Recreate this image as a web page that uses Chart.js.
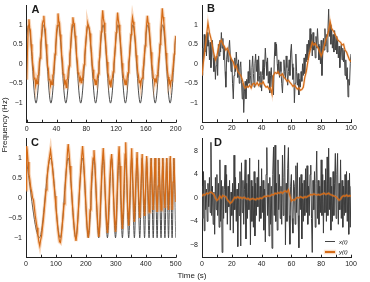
<!DOCTYPE html>
<html>
<head>
<meta charset="utf-8">
<script src="https://cdn.jsdelivr.net/npm/chart.js@4.4.1/dist/chart.umd.min.js"></script>
<style>
  html, body { margin: 0; padding: 0; background: #fff; }
  #wrap { position: relative; width: 370px; height: 282px; overflow: hidden; font-family: "Liberation Sans", Arial, sans-serif; color: #1a1a1a; }
  #wrap canvas { position: absolute; }
  .tag { position: absolute; font-weight: bold; font-size: 11px; line-height: 1; }
  .axt { position: absolute; font-size: 8px; line-height: 1; white-space: nowrap; }
  .leg { position: absolute; font-size: 6px; font-style: italic; line-height: 1; }
  .sw { position: absolute; width: 10px; }
</style>
</head>
<body>
<div id="wrap">
  <canvas id="cA" width="184" height="139" style="left:0;top:-3px"></canvas>
  <canvas id="cB" width="194" height="139" style="left:176px;top:-3px"></canvas>
  <canvas id="cC" width="184" height="145" style="left:0;top:130px"></canvas>
  <canvas id="cD" width="194" height="145" style="left:176px;top:130px"></canvas>

  <div class="tag" style="left:31.5px;top:3.6px">A</div>
  <div class="tag" style="left:207px;top:2.6px">B</div>
  <div class="tag" style="left:31px;top:137px">C</div>
  <div class="tag" style="left:214px;top:137px">D</div>

  <div class="axt" style="left:192px;top:272px;transform:translateX(-50%)">Time (s)</div>
  <div class="axt" style="left:5px;top:125px;transform:translate(-50%,-50%) rotate(-90deg)">Frequency (Hz)</div>

  <div class="sw" style="left:325px;top:241px;height:1px;background:#444"></div>
  <div class="leg" style="left:339px;top:238.5px">x(t)</div>
  <div class="sw" style="left:325px;top:250.5px;height:2px;background:#d46b17;box-shadow:0 0 1.5px 1px rgba(236,150,80,0.4)"></div>
  <div class="leg" style="left:339px;top:248.5px">y(t)</div>
</div>

<script>
// ---- Panel A: sinusoid, 0-200 s ----
const aBlackT = [0, 2.5, 12.5, 22.5, 32.5, 42.5, 52.5, 62.5, 72.5, 82.5, 92.5, 102.5,
  112.5, 122.5, 132.5, 142.5, 152.5, 162.5, 172.5, 182.5, 192.5, 200];
const aBlackV = [0.71, 1, -1, 1, -1, 1, -1, 1, -1, 1, -1, 1, -1, 1, -1, 1, -1, 1, -1, 1, -1, 0.71];
// orange sampled every 1 s
const aOrange = [
  -0.40, 0.30, 0.95, 1.14, 0.92, 0.85, 0.50, 0.33, 0.02, -0.12, -0.38, -0.35, -0.55, -0.42, -0.50, -0.30, -0.28, 0.05, 0.15, 0.55,
  0.70, 1.02, 1.10, 1.23, 0.95, 0.88, 0.50, 0.30, -0.05, -0.12, -0.40, -0.38, -0.55, -0.45, -0.52, -0.30, -0.25, 0.02, 0.25, 0.45,
  0.80, 0.98, 1.29, 1.10, 1.05, 0.75, 0.60, 0.22, 0.08, -0.25, -0.30, -0.50, -0.45, -0.60, -0.40, -0.38, -0.15, -0.05, 0.25, 0.42,
  0.78, 1.00, 1.19, 1.05, 1.02, 0.72, 0.58, 0.20, 0.05, -0.22, -0.28, -0.42, -0.35, -0.48, -0.38, -0.40, -0.15, -0.02, 0.22, 0.48,
  0.70, 0.95, 1.03, 0.95, 0.90, 0.78, 0.48, 0.30, -0.02, -0.15, -0.38, -0.40, -0.52, -0.45, -0.50, -0.32, -0.25, 0.05, 0.18, 0.52,
  0.82, 1.10, 1.37, 1.15, 1.05, 0.80, 0.55, 0.25, 0.05, -0.22, -0.32, -0.50, -0.45, -0.60, -0.42, -0.35, -0.20, 0.00, 0.22, 0.45,
  0.80, 1.05, 1.31, 1.12, 1.00, 0.82, 0.52, 0.28, 0.02, -0.18, -0.35, -0.42, -0.52, -0.45, -0.50, -0.33, -0.22, 0.04, 0.20, 0.50,
  0.75, 1.00, 1.19, 1.08, 0.98, 0.75, 0.55, 0.22, 0.05, -0.20, -0.30, -0.48, -0.42, -0.55, -0.40, -0.36, -0.18, -0.02, 0.24, 0.46,
  0.78, 1.02, 1.23, 1.05, 1.00, 0.78, 0.50, 0.30, 0.00, -0.16, -0.36, -0.38, -0.48, -0.40, -0.45, -0.30, -0.22, 0.06, 0.20, 0.50,
  0.85, 1.10, 1.42, 1.20, 1.08, 0.85, 0.58, 0.28, 0.05, -0.20, -0.33, -0.50, -0.44, -0.55, -0.42, -0.35, -0.18, 0.02, 0.25, 0.48,
  0.72
];

// ---- Panel B: noisy slow signal, 0-100 s ----
// black sampled every 0.5 s
const bBlack = [
  -0.30, 0.40, 0.10, 0.75, 0.30, 0.70, 0.20, 0.80, 0.45, 0.60, 0.10, 0.55, -0.10, 0.30, 0.60, 0.15, -0.20, 0.20, -0.40, -0.05,
  0.20, -0.30, 0.50, 0.20, 0.60, 0.30, 0.80, 0.40, 0.65, 0.10, 0.45, -0.20, -0.60, 0.10, 0.35, 0.05, 0.40, 0.60, 0.20, -0.20,
  0.10, -0.50, -0.90, -0.30, 0.15, -0.20, 0.30, 0.00, -0.35, 0.10, -0.50, -0.10, 0.05, -0.40, -0.90, -0.50, -1.25, -0.70, -0.45, -0.90,
  -0.40, -0.60, -0.20, -0.50, 0.10, -0.30, -0.55, -0.10, 0.20, -0.25, -0.60, 0.00, 0.25, -0.20, 0.10, -0.45, 0.20, -0.30, -0.60, -0.20,
  -0.70, -0.30, 0.10, -0.40, -0.10, 0.40, 0.05, -0.30, 0.15, -0.50, -0.20, -0.75, -0.30, -0.10, -0.60, -0.30, -0.80, 0.10, 0.55, 0.20,
  0.50, 0.00, -0.25, 0.10, -0.35, 0.05, -0.20, -0.50, -0.75, -0.30, 0.10, -0.20, -0.40, 0.20, -0.10, -0.55, -0.20, 0.10, -0.30, 0.30,
  0.50, 0.00, -0.40, -0.10, -1.00, -0.50, 0.25, -0.20, -0.55, -0.25, -0.80, -0.40, -0.60, -0.20, -0.45, 0.00, -0.30, 0.15, -0.25, 0.25,
  0.05, 0.50, 0.10, 0.60, 0.30, 0.90, 0.40, 0.75, 0.20, 0.80, 0.35, 0.55, 0.15, 0.70, 0.40, 0.90, 0.50, 0.10, 0.45, 0.00,
  0.60, -0.30, 0.20, 0.65, 0.35, 0.90, 0.45, 0.75, 0.30, 0.85, 1.40, 0.70, 1.00, 0.50, 0.90, 0.40, 0.75, 0.30, 0.85, 0.35,
  0.70, 0.25, 0.60, 0.15, 0.45, -0.10, 0.30, 0.50, 0.10, 0.40, 0.05, 0.35, -0.30, 0.10, -0.40, -0.10, -0.85, -0.40, -0.55, 0.00,
  0.25
];
// orange sampled every 1 s
const bOrange = [
  -0.30, 0.05, 0.35, 0.70, 1.05, 0.80, 0.65, 0.45, 0.25, 0.10, 0.20, 0.40, 0.55, 0.60, 0.50, 0.45, 0.35, 0.40, 0.30, 0.20,
  0.10, 0.05, -0.10, -0.05, -0.20, -0.25, -0.30, -0.40, -0.55, -0.62, -0.58, -0.60, -0.55, -0.62, -0.52, -0.50, -0.55, -0.48, -0.56, -0.50,
  -0.52, -0.46, -0.55, -0.60, -0.58, -0.65, -0.62, -0.78, -0.30, -0.22, -0.25, -0.20, -0.28, -0.30, -0.26, -0.35, -0.38, -0.45, -0.42, -0.48,
  -0.52, -0.58, -0.55, -0.60, -0.65, -0.62, -0.68, -0.66, -0.60, -0.35, -0.20, 0.05, 0.25, 0.40, 0.55, 0.48, 0.52, 0.45, 0.40, 0.30,
  0.20, 0.30, 0.45, 0.60, 0.70, 0.85, 1.08, 0.90, 0.85, 0.78, 0.70, 0.62, 0.58, 0.55, 0.48, 0.50, 0.35, 0.30, 0.20, 0.10,
  0.05
];

// ---- Panel C: chirp, 0-500 s (turning points of the reference) ----
const cBlackT = [0, 45, 82, 114, 141, 166, 189, 208, 227, 243, 258, 272, 286, 299, 311, 322, 333, 343, 353, 362,
  371, 380, 388, 396, 403, 411, 418, 425, 431, 438, 444, 451, 457, 464, 470, 476, 482, 488, 494, 500];
const cBlackV = [1, -1, 1, -1, 1, -1, 1, -1, 1, -1, 1, -1, 1, -1, 1, -1, 1, -1, 1, -1,
  1, -1, 1, -1, 1, -1, 1, -1, 1, -1, 1, -1, 1, -1, 1, -1, 1, -1, 1, -1];
const cOrangeT = [0, 2, 4, 7, 10, 13, 16, 19, 22, 25, 28, 31, 34, 37, 40, 43, 46, 49, 52, 55, 58, 61, 64, 67, 70, 73, 76, 79, 82,
  85, 88, 91, 94, 97, 100, 103, 106, 109, 112, 115, 118, 121, 124, 127, 130, 133, 136, 139, 141, 144, 147, 150, 153, 156, 159, 162,
  165, 167, 170, 173, 176, 179, 182, 185, 189, 192, 195, 198, 201, 204, 208, 211, 214, 217, 220, 224, 227, 230, 233, 236, 239, 243,
  246, 250, 254, 258, 261, 264, 268, 272, 275, 279, 283, 286, 289, 292, 296, 299, 302, 305, 308, 311, 314, 317, 320, 322, 325, 328,
  331, 333, 336, 339, 343, 346, 350, 353, 357, 362, 366, 371, 375, 380, 384, 388, 392, 396, 400, 403, 407, 411, 414, 418, 421, 425,
  428, 431, 434, 438, 441, 444, 447, 451, 454, 457, 460, 464, 467, 470, 473, 476, 479, 482, 485, 488, 491, 494, 497, 500];
const cOrangeV = [0.2, 1.3, 1.2, 0.9, 0.6, 0.45, 0.25, 0.15, 0.0, -0.05, -0.25, -0.45, -0.6, -0.75, -0.95, -1.1, -1.2, -1.05, -0.95,
  -0.75, -0.55, -0.3, -0.05, 0.2, 0.45, 0.7, 0.9, 1.05, 1.2, 1.0, 0.8, 0.55, 0.3, 0.05, -0.25, -0.5, -0.75, -0.95, -1.1, -1.12,
  -0.95, -0.7, -0.45, -0.15, 0.15, 0.5, 0.85, 1.2, 1.35, 1.1, 0.8, 0.45, 0.1, -0.25, -0.55, -0.8, -1.0, -1.08, -0.9, -0.55, -0.15,
  0.25, 0.6, 0.95, 1.3, 1.0, 0.6, 0.15, -0.3, -0.7, -1.0, -0.75, -0.3, 0.15, 0.6, 1.0, 1.2, 0.85, 0.35, -0.15, -0.55, -0.98,
  -0.7, 0.1, 0.8, 1.25, 0.85, 0.2, -0.45, -0.88, -0.5, 0.3, 0.9, 1.1, 0.7, 0.1, -0.55, -0.85, -0.4, 0.3, 0.9, 1.3, 0.8, 0.1,
  -0.5, -0.78, -0.2, 0.5, 1.1, 1.4, 0.7, -0.1, -0.7, -0.2, 0.7, 1.25, 0.4, -0.6, 0.3, 1.15, 0.3, -0.5, 0.3, 1.1, 0.3, -0.45,
  0.35, 1.05, 0.3, -0.35, 0.3, 1.0, 0.35, -0.3, 0.35, 1.0, 0.3, -0.35, 0.3, 1.0, 0.35, -0.3, 0.35, 1.0, 0.3, -0.25, 0.35, 1.0,
  0.3, -0.3, 0.35, 1.05, 0.3, -0.3, 0.4, 1.0, 0.4, -0.1];

// ---- Panel D: strong noise, 0-100 s ----
// black sampled every 0.5 s
const dBlack = [
  2.0, -3.5, 4.5, -5.6, 3.0, -2.0, 1.5, -4.0, 2.5, -1.5, 3.5, -2.5, 9.5, -3.0, 2.0, -4.5, 1.0, -6.2, 3.5, -2.0,
  4.0, -3.0, 2.5, -5.0, 6.5, -4.0, 3.0, -9.3, 2.0, -3.5, 1.5, 5.6, -2.5, 4.0, -4.5, 2.0, -1.5, 3.0, -5.5, 1.0,
  -3.0, 2.5, -6.0, 7.3, -2.0, 3.5, -4.0, 1.5, -8.3, 2.5, -3.0, 4.5, -8.2, 6.0, -2.5, 3.0, -4.5, 1.5, 6.5, -7.0,
  2.5, -3.5, 4.0, -2.0, 6.8, -8.0, 3.0, -4.0, 2.0, -5.0, 4.5, -6.5, 2.5, -3.0, 3.5, -1.5, 6.5, -4.0, 2.0, -3.5,
  5.0, -2.5, 3.0, -5.5, 1.5, -7.5, 4.0, 8.6, -3.0, 2.5, -6.5, 3.5, -4.5, 2.0, -8.6, 4.0, 8.7, -3.0, 9.0, -4.0,
  2.5, -5.5, 6.5, -2.0, 4.0, -3.5, 2.0, -4.5, 7.3, -3.0, 3.5, 9.0, -8.0, 2.5, -4.0, 5.0, 8.6, -3.0, -7.9, 2.0,
  4.0, -3.5, -6.0, 3.0, 2.0, -4.5, 5.5, -2.5, 6.0, -3.0, -8.5, 3.5, -2.0, 4.0, -7.0, 2.5, -4.0, 3.0, -3.0, 5.0,
  -2.5, 5.5, -4.5, 2.0, -3.0, 4.0, 5.6, -3.5, -9.3, 3.0, -2.0, 4.5, -5.0, 2.5, 8.0, -3.5, 3.0, -4.5, 2.0, -2.5,
  6.5, -3.0, 4.0, -6.0, 3.0, -2.5, 5.0, -4.0, 7.0, -3.0, 8.5, -2.0, 3.5, -5.5, 2.0, -4.0, 4.5, -3.0, 2.5, 7.6,
  -3.5, 4.0, 7.6, -4.5, 2.5, -2.0, 6.5, -3.5, 3.0, -5.0, 2.0, -3.0, 4.0, -2.5, 4.5, -4.0, 3.0, -6.2, 4.2, -5.0,
  2.0
];
// orange sampled every 1 s
const dOrange = [
  0.3, 0.6, 0.5, 0.8, 0.7, 0.9, 1.0, 0.8, 0.6, 0.0, -0.4, -0.2, 0.3, 0.0, 0.4, 0.3, 0.2, -0.3, -0.6, -0.9,
  -0.7, -0.3, 0.1, 0.0, 0.2, 0.0, 0.1, -0.1, 0.1, 0.0, -0.2, -0.1, -0.3, -0.2, -0.1, -0.2, -0.3, -0.1, -0.2, 0.0,
  -0.1, 0.1, 0.3, 0.2, 0.4, 0.3, 0.4, 0.6, 0.5, 0.8, 0.7, 0.9, 0.8, 1.0, 0.8, 1.1, 1.2, 1.0, 1.4, 0.4,
  -0.5, -0.3, -0.4, -0.1, 0.1, 0.0, 0.2, 0.1, 0.0, 0.2, 0.1, 0.3, 0.4, 0.6, 0.5, 0.7, 0.6, 0.5, 0.6, 0.5,
  0.6, 0.7, 0.8, 0.6, 0.7, 0.8, 0.6, 0.5, 0.4, 0.3, 0.2, -0.1, -0.4, -0.2, 0.2, 0.4, 0.3, 0.5, 0.3, 0.4,
  0.3
];

// ---- axis ticks ----
const ticks200 = [0, 20, 40, 60, 80, 100, 120, 140, 160, 180, 200];
const labels200 = [0, 40, 80, 120, 160, 200];
const ticks100 = [0, 10, 20, 30, 40, 50, 60, 70, 80, 90, 100];
const labels100 = [0, 20, 40, 60, 80, 100];
const ticks500 = [0, 50, 100, 150, 200, 250, 300, 350, 400, 450, 500];
const labels500 = [0, 100, 200, 300, 400, 500];
const yTicksUnit = [-1, -0.5, 0, 0.5, 1];
const yTicksD = [-8, -4, 0, 4, 8];

const ORANGE = '#d46b17';
const AXIS = '#222';

Chart.defaults.font.family = '"Liberation Sans", Arial, sans-serif';
Chart.defaults.font.size = 7;
Chart.defaults.color = '#222';

const pts = (ts, vs) => vs.map((v, i) => ({ x: ts[i], y: v }));
const stepped = (step, vs) => vs.map((v, i) => ({ x: i * step, y: v }));
const fmt = v => (v < 0 ? '\u2212' + Math.abs(v) : String(v));

// short inward tick marks on the time axis
const inwardTicks = {
  id: 'inwardTicks',
  afterDraw(chart) {
    const { ctx, chartArea } = chart;
    const x = chart.scales.x;
    ctx.save();
    ctx.strokeStyle = AXIS;
    ctx.lineWidth = 1;
    ctx.beginPath();
    x.ticks.forEach(t => {
      const px = Math.round(x.getPixelForValue(t.value)) + 0.5;
      ctx.moveTo(px, chartArea.bottom);
      ctx.lineTo(px, chartArea.bottom - 3);
    });
    ctx.stroke();
    ctx.restore();
  }
};

function panel(id, cfg) {
  const black = {
    data: cfg.black, borderColor: cfg.gray, borderWidth: 1, pointRadius: 0,
    cubicInterpolationMode: cfg.smoothBlack ? 'monotone' : 'default', tension: 0
  };
  const halo = { data: cfg.orange, borderColor: cfg.halo, borderWidth: cfg.haloW, pointRadius: 0, tension: 0 };
  const orange = { data: cfg.orange, borderColor: ORANGE, borderWidth: 1.2, pointRadius: 0, tension: 0 };
  return new Chart(document.getElementById(id), {
    type: 'line',
    data: { datasets: [orange, halo, black] },
    options: {
      responsive: false,
      animation: false,
      events: [],
      layout: { padding: { top: cfg.padTop, right: cfg.padRight, left: 0, bottom: 0 } },
      plugins: { legend: { display: false }, tooltip: { enabled: false } },
      scales: {
        x: {
          type: 'linear', min: cfg.xTicks[0], max: cfg.xTicks[cfg.xTicks.length - 1],
          grid: { display: false, drawTicks: false },
          border: { display: true, color: AXIS, width: 1 },
          afterBuildTicks: s => { s.ticks = cfg.xTicks.map(v => ({ value: v })); },
          afterFit: s => { s.height = cfg.xH; },
          ticks: {
            padding: 2, maxRotation: 0, autoSkip: false,
            callback: v => (cfg.xLabels.includes(v) ? fmt(v) : '')
          }
        },
        y: {
          min: cfg.yMin, max: cfg.yMax,
          grid: { display: false, drawTicks: false },
          border: { display: true, color: AXIS, width: 1 },
          afterBuildTicks: s => { s.ticks = cfg.yTicks.map(v => ({ value: v })); },
          afterFit: s => { s.width = cfg.yW; },
          ticks: { padding: 4, autoSkip: false, callback: v => fmt(v) }
        }
      }
    },
    plugins: [inwardTicks]
  });
}

panel('cA', {
  black: pts(aBlackT, aBlackV), orange: stepped(1, aOrange), smoothBlack: true,
  gray: '#4d4d4d', halo: 'rgba(236,150,80,0.38)', haloW: 3.5,
  xTicks: ticks200, xLabels: labels200, yTicks: yTicksUnit, yMin: -1.5, yMax: 1.5,
  padTop: 6.3, padRight: 8.3, yW: 26.7, xH: 13.3
});
panel('cB', {
  black: stepped(0.5, bBlack), orange: stepped(1, bOrange), smoothBlack: false,
  gray: '#454545', halo: 'rgba(236,150,80,0.28)', haloW: 2.5,
  xTicks: ticks100, xLabels: labels100, yTicks: yTicksUnit, yMin: -1.5, yMax: 1.5,
  padTop: 6.3, padRight: 19, yW: 26, xH: 13.7
});
panel('cC', {
  black: pts(cBlackT, cBlackV), orange: pts(cOrangeT, cOrangeV), smoothBlack: true,
  gray: '#4d4d4d', halo: 'rgba(236,150,80,0.38)', haloW: 3.5,
  xTicks: ticks500, xLabels: labels500, yTicks: yTicksUnit, yMin: -1.5, yMax: 1.5,
  padTop: 8, padRight: 8.3, yW: 26, xH: 17.3
});
panel('cD', {
  black: stepped(0.5, dBlack), orange: stepped(1, dOrange), smoothBlack: false,
  gray: '#3d3d3d', halo: 'rgba(236,150,80,0.3)', haloW: 2.5,
  xTicks: ticks100, xLabels: labels100, yTicks: yTicksD, yMin: -10.2, yMax: 10.2,
  padTop: 8, padRight: 19, yW: 26, xH: 17.3
});
</script>
</body>
</html>
